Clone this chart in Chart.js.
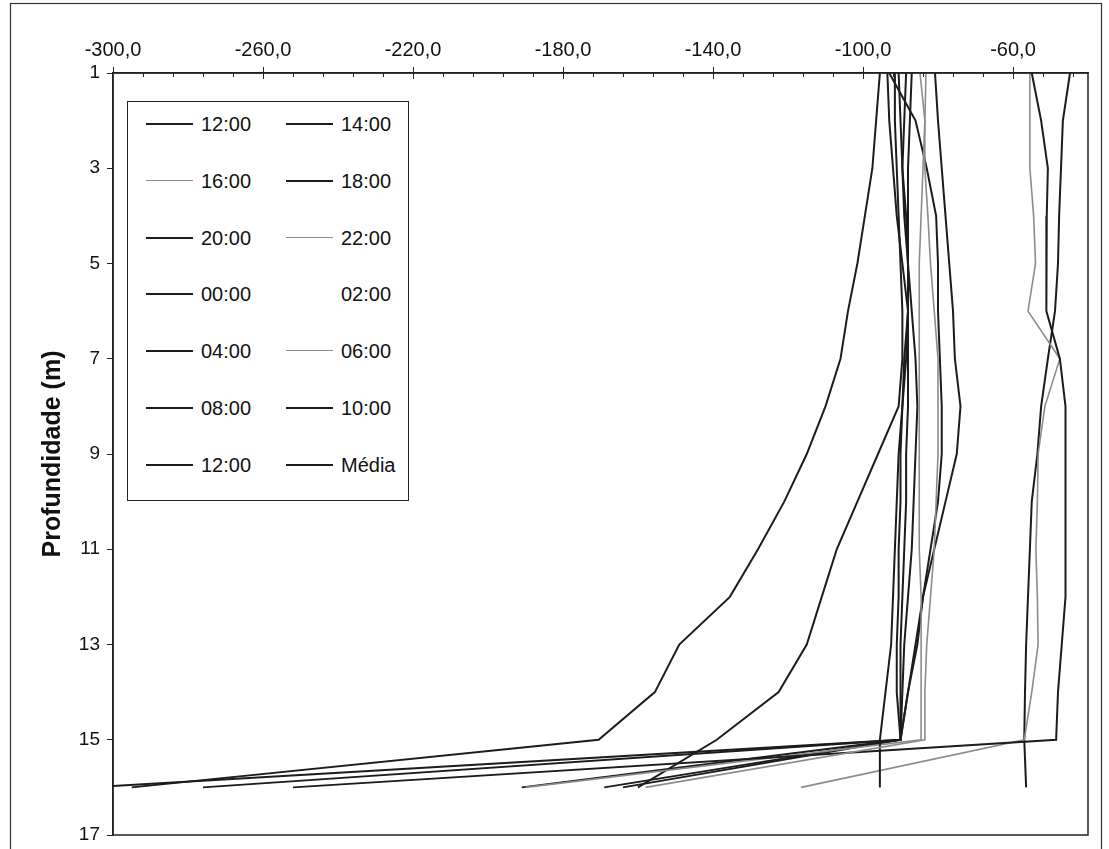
<!DOCTYPE html>
<html>
<head>
<meta charset="utf-8">
<script src="https://cdn.jsdelivr.net/npm/chart.js@4.4.0/dist/chart.umd.min.js"></script>
<style>
  html, body { margin: 0; padding: 0; background: #fff; }
  #wrap { position: relative; width: 1109px; height: 849px; }
  #grafico { position: absolute; left: 0; top: 0; }
  #legenda {
    position: absolute; left: 127px; top: 101px; width: 280px; height: 398px;
    border: 1.5px solid #222; background: #fff;
    font-family: "Liberation Sans", Arial, sans-serif; font-size: 20px; color: #111;
  }
  .item { position: absolute; height: 24px; line-height: 24px; white-space: nowrap; }
  .amostra { position: absolute; top: 11px; width: 47px; }
  .rotulo { position: absolute; left: 55px; top: 0; }
</style>
</head>
<body>
<div id="wrap">
  <canvas id="grafico" width="1109" height="849"></canvas>
  <div id="legenda"></div>
</div>
<script>
// Profundidades (m) e ticks
const profundidades = [1, 2, 3, 4, 5, 6, 7, 8, 9, 10, 11, 12, 13, 14, 15, 16];
const ticksX = [-300, -260, -220, -180, -140, -100, -60];
const ticksY = [1, 3, 5, 7, 9, 11, 13, 15, 17];

// Horários (legenda)
const horarios = ['12:00', '14:00', '16:00', '18:00', '20:00', '22:00', '00:00',
                  '02:00', '04:00', '06:00', '08:00', '10:00', '12:00', 'Média'];

// Valores, um por profundidade
const v1200a = [-95.5, -96.5, -97.5, -99.5, -101.5, -104, -106, -110, -115, -121, -128, -135.5, -149, -155.5, -170.5, -295];
const v1400  = [-90.5, -90, -89.5, -88.5, -88, -88, -89, -89.5, -90, -90, -90.5, -90.5, -91, -91, -90, -306];
const v1600  = [-84.8, -83.5, -83.5, -82.7, -82, -81, -80, -80, -80, -80.5, -81, -82, -83, -83.5, -83.5, -158];
const v1800  = [-55, -52.5, -50.7, -51, -51, -51.2, -47.5, -46, -46, -46, -46, -46, -47, -48, -48.5, -252];
const v2000  = [-93.5, -93, -92, -91, -89.5, -88, -88.5, -89.5, -90.5, -91, -91.5, -92, -92.5, -94, -95.5, -95.5];
const v2200  = [-83.2, -83.5, -84, -84.5, -85, -85, -85, -85, -85, -85, -85, -84.5, -84.5, -84.5, -84.5, -190];
const v0000  = [-87, -87.5, -88, -88, -88, -88, -88, -88, -88.5, -88.5, -89, -89.5, -90, -90, -90, -169];
const v0200  = [];
const v0400  = [-88.5, -89, -89.5, -89, -88, -87, -86, -85.5, -86, -86.5, -87, -88, -89, -89.5, -90, -164];
const v0600  = [-55.5, -55.5, -55.5, -54.5, -54, -56, -47.5, -51.5, -53.3, -53.5, -53.9, -53.5, -53.3, -55, -57, -116.5];
const v0800  = [-91.5, -91.5, -91, -90.5, -90, -89.5, -89.5, -90.5, -96, -101.5, -107, -111, -115, -122.5, -139, -160];
const v1000  = [-44.8, -46.7, -47.2, -47.7, -48, -48.8, -50.7, -52.5, -53.5, -55, -55.5, -56, -56.5, -56.8, -57, -56.5];
const v1200b = [-93, -86, -83, -80.5, -80, -80, -79.5, -79, -79, -80, -82, -84, -86, -88, -90, -276];
const vMedia = [-80.8, -80, -79, -78, -77, -76, -75.5, -74, -75, -78, -81, -84, -85.5, -88, -90, -191];

const series = [v1200a, v1400, v1600, v1800, v2000, v2200, v0000, v0200, v0400, v0600, v0800, v1000, v1200b, vMedia];
const cinza = [2, 5, 9]; // 16:00, 22:00, 06:00

const fonte = '"Liberation Sans", Arial, sans-serif';

const datasets = series.map((vals, i) => ({
  label: horarios[i],
  data: vals.map((v, k) => ({ x: v, y: profundidades[k] })),
  borderColor: i === 7 ? 'rgba(0,0,0,0)' : (cinza.includes(i) ? '#8c8c8c' : '#1c1c1c'),
  borderWidth: cinza.includes(i) ? 1.6 : 2,
  pointRadius: 0,
  showLine: true,
  tension: 0
}));

// moldura, ticks menores e borda da área
const moldura = {
  id: 'moldura',
  beforeDraw(chart) {
    const ctx = chart.ctx;
    ctx.save();
    ctx.fillStyle = '#fff';
    ctx.fillRect(0, 0, chart.width, chart.height);
    ctx.strokeStyle = '#333';
    ctx.lineWidth = 1.2;
    ctx.strokeRect(10.5, 3.5, 1091, 850);
    ctx.restore();
  },
  afterDatasetsDraw(chart) {
    const ctx = chart.ctx;
    const a = chart.chartArea;
    const x = chart.scales.x;
    ctx.save();
    ctx.strokeStyle = '#222';
    ctx.lineWidth = 1.5;
    ctx.strokeRect(a.left, a.top, a.right - a.left, a.bottom - a.top);
    ctx.lineWidth = 1;
    for (let v = -292; v < -40; v += 8) {
      const px = Math.round(x.getPixelForValue(v)) + 0.5;
      const maior = ticksX.includes(v);
      ctx.beginPath();
      ctx.moveTo(px, a.top);
      ctx.lineTo(px, a.top + (maior ? 6 : 4));
      ctx.stroke();
    }
    ctx.restore();
  }
};

const grafico = new Chart(document.getElementById('grafico'), {
  type: 'scatter',
  data: { datasets: datasets },
  plugins: [moldura],
  options: {
    responsive: false,
    animation: false,
    layout: { padding: { left: 38, right: 21, top: 0, bottom: 14 } },
    plugins: { legend: { display: false }, tooltip: { enabled: false } },
    scales: {
      x: {
        type: 'linear', position: 'top', min: -300, max: -40,
        afterBuildTicks: ax => { ax.ticks = ticksX.map(v => ({ value: v })); },
        afterFit: ax => { ax.height = 73; ax.paddingLeft = 0; ax.paddingRight = 0; },
        grid: { drawOnChartArea: false, drawTicks: true, tickLength: 6, color: '#222' },
        border: { color: '#222', width: 1.5 },
        ticks: {
          color: '#111', padding: 5, maxRotation: 0,
          font: { family: fonte, size: 20 },
          callback: v => v.toFixed(1).replace('.', ',')
        }
      },
      y: {
        type: 'linear', reverse: true, min: 1, max: 17,
        afterBuildTicks: ax => { ax.ticks = ticksY.map(v => ({ value: v })); },
        afterFit: ax => { ax.width = 75; ax.paddingTop = 0; ax.paddingBottom = 0; },
        grid: { drawOnChartArea: false, drawTicks: true, tickLength: 6, color: '#222' },
        border: { color: '#222', width: 1.5 },
        ticks: { color: '#111', padding: 7, font: { family: fonte, size: 19 } },
        title: {
          display: true, text: 'Profundidade (m)', color: '#111',
          font: { family: fonte, size: 25, weight: 'bold' }, padding: 0
        }
      }
    }
  }
});

// legenda em duas colunas dentro da área
const leg = document.getElementById('legenda');
datasets.forEach((ds, i) => {
  const lin = Math.floor(i / 2), col = i % 2;
  const item = document.createElement('div');
  item.className = 'item';
  item.style.top = (10 + lin * 56.8) + 'px';
  item.style.left = (col === 0 ? 18 : 158) + 'px';
  const am = document.createElement('div');
  am.className = 'amostra';
  am.style.borderTop = ds.borderWidth + 'px solid ' + ds.borderColor;
  const rot = document.createElement('span');
  rot.className = 'rotulo';
  rot.textContent = ds.label;
  item.appendChild(am);
  item.appendChild(rot);
  leg.appendChild(item);
});
</script>
</body>
</html>
